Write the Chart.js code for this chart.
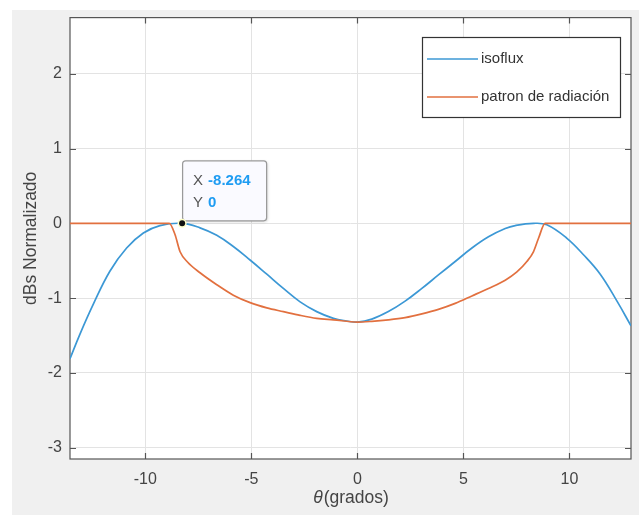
<!DOCTYPE html>
<html lang="es">
<head>
<meta charset="UTF-8">
<title>Isoflux vs patron de radiacion</title>
<style>
    html, body { margin: 0; padding: 0; background: #fff; }
    #wrap { width: 639px; height: 515px; }
</style>
</head>
<body>
<div id="wrap"><canvas id="plot" width="639" height="515"></canvas></div>
<script src="https://cdn.jsdelivr.net/npm/chart.js"></script>
<script>
// --- data ---
const thetaIso = [-13.55, -13.08, -12.45, -11.67, -10.88, -10.09, -9.31, -8.264, -7.42, -6.63, -5.85,
    -5.06, -4.27, -3.49, -2.70, -1.92, -1.13, -0.5, 0, 0.68, 1.46, 2.25, 3.04, 3.82, 4.61, 5.40,
    6.18, 6.97, 7.44, 8.30, 8.93, 9.88, 10.66, 11.45, 12.24, 12.9];
const isoflux = [-1.81, -1.48, -1.08, -0.64, -0.33, -0.13, -0.03, 0, -0.06, -0.16, -0.31,
    -0.49, -0.68, -0.87, -1.05, -1.18, -1.27, -1.305, -1.32, -1.28, -1.18, -1.04, -0.87, -0.69, -0.51, -0.33,
    -0.18, -0.07, -0.03, 0, -0.02, -0.20, -0.42, -0.68, -1.04, -1.37];

const thetaPat = [-13.55, -8.87, -8.6, -8.36, -8.0, -7.42, -6.63, -5.85, -5.06, -4.27, -3.49,
    -2.70, -1.92, -1.13, 0, 0.68, 1.46, 2.25, 3.04, 3.82, 4.61, 5.40, 6.18, 6.97, 7.52, 7.99,
    8.30, 8.54, 8.85, 12.9];
const patron = [0, 0, -0.15, -0.38, -0.52, -0.66, -0.82, -0.96, -1.06, -1.13, -1.18,
    -1.23, -1.27, -1.29, -1.32, -1.31, -1.29, -1.26, -1.21, -1.15, -1.07, -0.97, -0.87, -0.76, -0.65, -0.51,
    -0.38, -0.20, 0, 0];

const seriesNames = ['isoflux', 'patron de radiación'];
const seriesColors = ['#3c98d5', '#e2703f'];

const xTicks = [-10, -5, 0, 5, 10];
const yTicks = [-3, -2, -1, 0, 1, 2];
const xRange = [-13.55, 12.9];
const yRange = [-3.15, 2.75];

// data tip on the left peak
const tipX = -8.264;
const tipY = 0;

const FONT = "'Liberation Sans', Arial, Helvetica, sans-serif";
const TEXT = '#444';

const toPoints = (xs, ys) => xs.map((x, i) => ({ x: x, y: ys[i] }));

// figure background, white axes area, box with inward ticks
const backdrop = {
    id: 'backdrop',
    beforeDraw(chart) {
        const c = chart.ctx, a = chart.chartArea;
        c.save();
        c.fillStyle = '#fff';
        c.fillRect(0, 0, chart.width, chart.height);
        c.fillStyle = '#f0f0f0';
        c.fillRect(12, 10, chart.width - 12, chart.height - 10);
        c.fillStyle = '#fff';
        c.fillRect(a.left, a.top, a.right - a.left, a.bottom - a.top);
        c.restore();
    },
    beforeDatasetsDraw(chart) {
        const c = chart.ctx, a = chart.chartArea;
        const xs = chart.scales.x, ys = chart.scales.y;
        const t = 6;
        c.save();
        c.strokeStyle = '#555';
        c.lineWidth = 1.2;
        c.beginPath();
        xTicks.forEach(v => {
            const px = Math.round(xs.getPixelForValue(v)) + 0.5;
            c.moveTo(px, a.bottom); c.lineTo(px, a.bottom - t);
            c.moveTo(px, a.top); c.lineTo(px, a.top + t);
        });
        yTicks.forEach(v => {
            const py = Math.round(ys.getPixelForValue(v)) + 0.5;
            c.moveTo(a.left, py); c.lineTo(a.left + t, py);
            c.moveTo(a.right, py); c.lineTo(a.right - t, py);
        });
        c.stroke();
        c.strokeRect(a.left, a.top, a.right - a.left, a.bottom - a.top);

        // axis titles
        c.fillStyle = TEXT;
        c.textBaseline = 'middle';
        c.textAlign = 'left';
        const cx = (a.left + a.right) / 2;
        const th = 'θ', rest = '(grados)';
        c.font = 'italic 17.5px ' + FONT;
        const w1 = c.measureText(th).width;
        c.font = '17.5px ' + FONT;
        const w2 = c.measureText(rest).width;
        const sx = cx - (w1 + w2) / 2;
        c.font = 'italic 17.5px ' + FONT;
        c.fillText(th, sx, 498);
        c.font = '17.5px ' + FONT;
        c.fillText(rest, sx + w1 + 1, 498);

        c.translate(31, (a.top + a.bottom) / 2);
        c.rotate(-Math.PI / 2);
        c.textAlign = 'center';
        c.fillText('dBs Normalizado', 0, 0);
        c.restore();
    }
};

// legend box and data tip
const overlay = {
    id: 'overlay',
    afterDraw(chart) {
        const c = chart.ctx;
        const xs = chart.scales.x, ys = chart.scales.y;
        c.save();

        // legend
        c.fillStyle = '#fff';
        c.fillRect(422, 37, 198, 80);
        c.strokeStyle = '#333';
        c.lineWidth = 1.2;
        c.strokeRect(422.5, 37.5, 198, 80);
        const rows = [59, 97];
        c.font = '15px ' + FONT;
        c.textBaseline = 'middle';
        c.textAlign = 'left';
        rows.forEach((y, i) => {
            c.strokeStyle = seriesColors[i];
            c.lineWidth = 1.6;
            c.beginPath();
            c.moveTo(427, y); c.lineTo(478, y);
            c.stroke();
            c.fillStyle = '#333';
            c.fillText(seriesNames[i], 481, y);
        });

        // data tip
        const ax = xs.getPixelForValue(tipX), ay = ys.getPixelForValue(tipY);
        const bx = ax + 0.5, by = ay - 62.5, bw = 84, bh = 60;
        c.shadowColor = 'rgba(0,0,0,0.18)';
        c.shadowBlur = 3;
        c.shadowOffsetX = 1;
        c.shadowOffsetY = 1;
        c.fillStyle = '#fafaff';
        c.beginPath();
        c.roundRect(bx, by, bw, bh, 3);
        c.fill();
        c.shadowColor = 'transparent';
        c.strokeStyle = '#9a9a9a';
        c.lineWidth = 1.2;
        c.stroke();

        c.font = '15px ' + FONT;
        c.fillStyle = '#555';
        c.fillText('X', ax + 11, ay - 42);
        c.fillText('Y', ax + 11, ay - 20);
        c.font = 'bold 15px ' + FONT;
        c.fillStyle = '#1e9cf2';
        c.fillText(String(tipX), ax + 26, ay - 42);
        c.fillText(String(tipY), ax + 26, ay - 20);

        // marker
        c.fillStyle = '#ffffc8';
        c.beginPath();
        c.arc(ax, ay, 4.5, 0, Math.PI * 2);
        c.fill();
        c.fillStyle = '#111';
        c.beginPath();
        c.arc(ax, ay, 3, 0, Math.PI * 2);
        c.fill();
        c.restore();
    }
};

new Chart(document.getElementById('plot'), {
    type: 'line',
    data: {
        datasets: [
            {
                label: seriesNames[0],
                data: toPoints(thetaIso, isoflux),
                borderColor: seriesColors[0],
                borderWidth: 1.7,
                pointRadius: 0,
                tension: 0.4,
                order: 1
            },
            {
                label: seriesNames[1],
                data: toPoints(thetaPat, patron),
                borderColor: seriesColors[1],
                borderWidth: 1.7,
                pointRadius: 0,
                cubicInterpolationMode: 'monotone',
                order: 0
            }
        ]
    },
    options: {
        responsive: false,
        animation: false,
        layout: { padding: { left: 0, top: 14, right: 8, bottom: 0 } },
        plugins: { legend: { display: false }, tooltip: { enabled: false } },
        scales: {
            x: {
                type: 'linear',
                min: xRange[0],
                max: xRange[1],
                afterBuildTicks: s => { s.ticks = xTicks.map(v => ({ value: v })); },
                afterFit: s => { s.height = 56; },
                grid: { color: '#e3e3e3', drawTicks: false },
                border: { display: false },
                ticks: { color: TEXT, font: { family: FONT, size: 16 }, padding: 11, maxRotation: 0 }
            },
            y: {
                min: yRange[0],
                max: yRange[1],
                afterBuildTicks: s => { s.ticks = yTicks.map(v => ({ value: v })); },
                afterFit: s => { s.width = 70; },
                grid: { color: '#e3e3e3', drawTicks: false },
                border: { display: false },
                ticks: { color: TEXT, font: { family: FONT, size: 16 }, padding: 8 }
            }
        }
    },
    plugins: [backdrop, overlay]
});
</script>
</body>
</html>
